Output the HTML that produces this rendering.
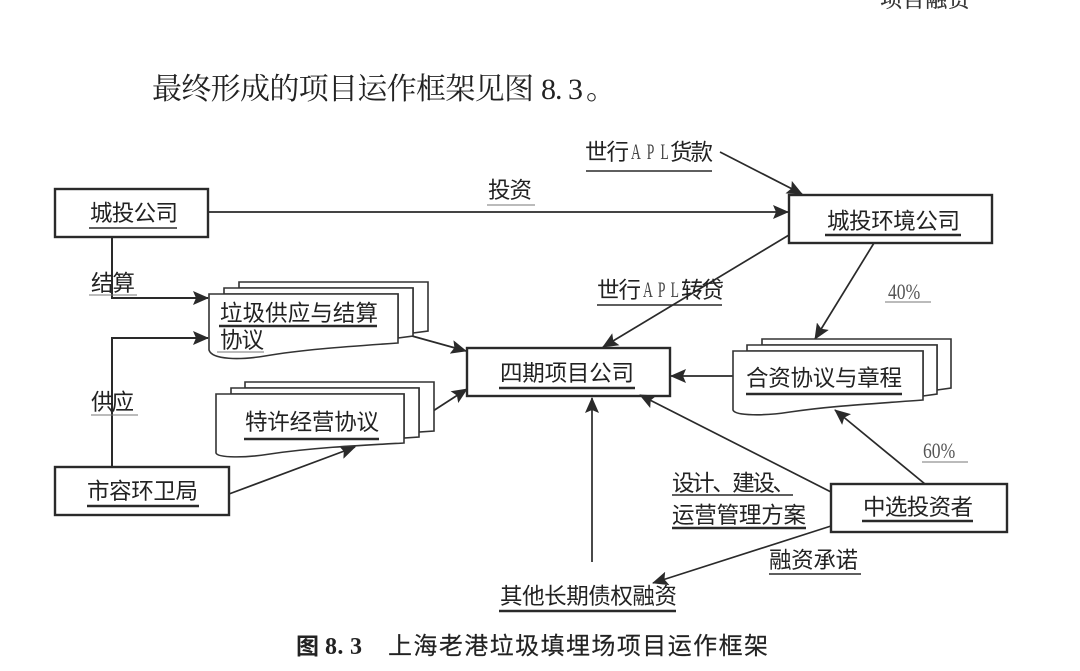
<!DOCTYPE html>
<html>
<head>
<meta charset="utf-8">
<style>
html,body{margin:0;padding:0;background:#fff;width:1080px;height:671px;overflow:hidden}
svg{display:block}
text{font-family:"Liberation Sans","Noto Sans CJK SC",sans-serif;font-size:22.5px;fill:#222}
.s{font-family:"Liberation Serif","Noto Serif CJK SC",serif}
.n{font-family:"Liberation Serif",serif;font-size:22px;fill:#555}
.p{font-family:"Liberation Serif",serif;font-size:22px;fill:#444}
.b{fill:none;stroke:#2a2a2a;stroke-width:2.4}
.d{fill:#fff;stroke:#333;stroke-width:1.6}
.l{fill:none;stroke:#2a2a2a;stroke-width:1.7}
.u{stroke:#2a2a2a;stroke-width:1.6}
.t{stroke:#2a2a2a;stroke-width:2.4}
.h{stroke:#777;stroke-width:1}
</style>
</head>
<body>
<svg width="1080" height="671" viewBox="0 0 1080 671" xmlns="http://www.w3.org/2000/svg">
<defs>
<marker id="a" markerUnits="userSpaceOnUse" markerWidth="16" markerHeight="14" refX="15" refY="7" orient="auto">
<path d="M0,0 L16,7 L0,14 L3,7 Z" fill="#2a2a2a"/>
</marker>
</defs>

<!-- header -->
<text x="880" y="7" class="s" style="font-size:22px;fill:#333;stroke:#333;stroke-width:.3" textLength="90">项目融资</text>
<text x="152" y="99" class="s" style="font-size:30px" textLength="382">最终形成的项目运作框架见图</text>
<text x="541" y="99" class="s" style="font-size:30px" textLength="42">8. 3</text>
<text x="586" y="99" class="s" style="font-size:30px">。</text>

<!-- connectors -->
<path class="l" d="M208,212 H788" marker-end="url(#a)"/>
<path class="l" d="M720,152 L802,194" marker-end="url(#a)"/>
<path class="l" d="M789,235 L603,347" marker-end="url(#a)"/>
<path class="l" d="M874,243 L815,339" marker-end="url(#a)"/>
<path class="l" style="stroke-width:2" d="M112,237 V298 H208" marker-end="url(#a)"/>
<path class="l" style="stroke-width:2" d="M112,467 V338 H208" marker-end="url(#a)"/>
<path class="l" d="M412,336 L466,351" marker-end="url(#a)"/>
<path class="l" d="M433,411 L467,389" marker-end="url(#a)"/>
<path class="l" d="M229,494 L355,447" marker-end="url(#a)"/>
<path class="l" d="M733,376 H671" marker-end="url(#a)"/>
<path class="l" d="M925,484 L835,410" marker-end="url(#a)"/>
<path class="l" d="M831,492 L640,395" marker-end="url(#a)"/>
<path class="l" d="M831,526 L653,583" marker-end="url(#a)"/>
<path class="l" d="M592,562 V398" marker-end="url(#a)"/>

<!-- document stack 1 -->
<path class="d" d="M239,288 V282 H428 V331 L413,333 V288 Z"/>
<path class="d" d="M224,294 V288 H413 V336 L398,338 V294 Z"/>
<path class="d" d="M209,294 H398 V343 C340,347 300,350 265,356 C240,360 212,360 209,350 Z"/>

<!-- document stack 2 -->
<path class="d" d="M245,388 V382 H434 V431 L419,432 V388 Z"/>
<path class="d" d="M231,394 V388 H419 V437 L404,438 V394 Z"/>
<path class="d" d="M216,394 H404 V443 C350,446 310,448 270,454 C245,458 218,458 216,453 Z"/>

<!-- document stack 3 -->
<path class="d" d="M762,345 V339 H951 V388 L937,390 V345 Z"/>
<path class="d" d="M747,351 V345 H937 V394 L923,396 V351 Z"/>
<path class="d" d="M733,351 H923 V400 C870,404 830,406 790,412 C765,416 735,416 733,410 Z"/>

<!-- boxes -->
<rect class="b" x="55" y="189" width="153" height="48" fill="#fff"/>
<rect class="b" x="789" y="195" width="203" height="48" fill="#fff"/>
<rect class="b" x="467" y="348" width="203" height="48" fill="#fff"/>
<rect class="b" x="55" y="467" width="174" height="48" fill="#fff"/>
<rect class="b" x="831" y="484" width="176" height="48" fill="#fff"/>

<!-- labels -->
<text x="90" y="221" textLength="88">城投公司</text>
<line class="u" x1="89" y1="228" x2="177" y2="228"/>
<text x="827" y="229" textLength="133">城投环境公司</text>
<line class="t" x1="825" y1="235" x2="961" y2="235"/>
<text x="500" y="381" textLength="134">四期项目公司</text>
<line class="t" x1="499" y1="388" x2="635" y2="388"/>
<text x="87" y="499" textLength="111">市容环卫局</text>
<line class="t" x1="87" y1="506" x2="199" y2="506"/>
<text x="863" y="515" textLength="110">中选投资者</text>
<line class="t" x1="862" y1="521" x2="973" y2="521"/>

<text x="488" y="198" textLength="44">投资</text>
<line class="h" x1="487" y1="205" x2="535" y2="205"/>
<text x="91" y="291" textLength="44">结算</text>
<line class="h" x1="89" y1="295" x2="137" y2="295"/>
<text x="91" y="410" textLength="43">供应</text>
<line class="h" x1="91" y1="415" x2="138" y2="415"/>

<text x="585" y="160" textLength="44">世行</text>
<text x="631" y="159" class="p" textLength="61" transform="translate(631 0) scale(.62 1) translate(-631 0)">A P L</text>
<text x="670" y="160" textLength="43">货款</text>
<line class="u" x1="586" y1="171" x2="712" y2="171"/>

<text x="597" y="298" textLength="44">世行</text>
<text x="643" y="297" class="p" textLength="58" transform="translate(643 0) scale(.62 1) translate(-643 0)">A P L</text>
<text x="681" y="298" textLength="43">转贷</text>
<line class="u" x1="597" y1="305" x2="722" y2="305"/>

<text x="888" y="299" class="n" transform="translate(888 0) scale(.8 1) translate(-888 0)">40%</text>
<line class="h" x1="885" y1="302" x2="931" y2="302"/>
<text x="923" y="458" class="n" transform="translate(923 0) scale(.8 1) translate(-923 0)">60%</text>
<line class="h" x1="922" y1="462" x2="968" y2="462"/>

<text x="220" y="321" textLength="158">垃圾供应与结算</text>
<line class="t" x1="219" y1="326" x2="377" y2="326"/>
<text x="220" y="348" textLength="44">协议</text>
<line class="h" x1="217" y1="352" x2="264" y2="352"/>

<text x="245" y="430" textLength="134">特许经营协议</text>
<line class="t" x1="244" y1="439" x2="379" y2="439"/>

<text x="746" y="386" textLength="156">合资协议与章程</text>
<line class="t" x1="746" y1="394" x2="902" y2="394"/>

<text x="672" y="491" textLength="123">设计、建设、</text>
<line class="u" x1="672" y1="495" x2="793" y2="495"/>
<text x="672" y="523" textLength="134">运营管理方案</text>
<line class="t" x1="672" y1="528" x2="806" y2="528"/>

<text x="769" y="568" textLength="89">融资承诺</text>
<line class="u" x1="769" y1="574" x2="861" y2="574"/>

<text x="500" y="604" textLength="177">其他长期债权融资</text>
<line class="t" x1="499" y1="611" x2="676" y2="611"/>

<!-- caption -->
<text x="296" y="654" style="font-size:23px;font-weight:700">图</text>
<text x="325" y="654" style="font-size:24px;font-weight:700;font-family:'Liberation Serif',serif" textLength="37">8. 3</text>
<text x="388" y="654" style="font-size:24px;stroke:#222;stroke-width:.15" textLength="380">上海老港垃圾填埋场项目运作框架</text>
</svg>
</body>
</html>
